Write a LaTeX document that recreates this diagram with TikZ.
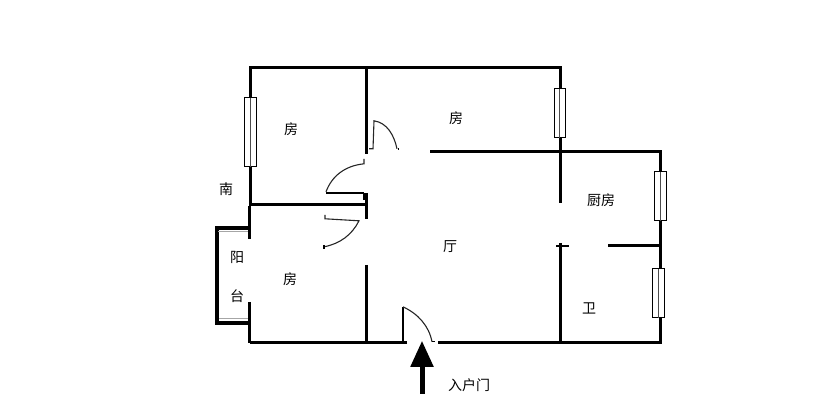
\documentclass[tikz,border=0pt]{standalone}
\usepackage{fontspec}
\usepackage{xcolor}
\usepackage{tikz}
\usetikzlibrary{calc}
\usetikzlibrary{arrows.meta}
\newfontfamily\cjk{Noto Sans CJK SC}[Scale=1]
\tikzset{
  wall/.style={line width=3pt,line cap=square},
  thinwall/.style={line width=2.4pt},
  doorleaf/.style={line width=1.1pt,black!85},
  label/.style={font=\cjk\fontsize{14}{14}\selectfont,inner sep=0pt},
  glass/.style={draw=black,fill=white,line width=.7pt}
}
\begin{document}
\begin{tikzpicture}[x=1pt,y=-1pt,>=stealth]
\useasboundingbox (0,-0.8) rectangle (814,418.2);
% outer walls
\draw[wall] (250,205)--(250,67)--(560,67)--(560,202);
\draw[wall] (430,151)--(660,151)--(660,342)--(438,342);
\draw[wall] (407,342)--(250,342);
\draw[wall] (249,301)--(249,342);
\draw[wall] (249,205)--(249,238);
% inner walls
\draw[wall] (366,67)--(366,153);
\draw[wall] (366,192)--(366,218);
\draw[wall] (366,264)--(366,342);
\draw[wall] (250,204)--(366,204);
\draw[wall] (560,242)--(560,342);
\draw[wall] (608,245)--(660,245);
\draw[thinwall] (556,245)--(569,245);
% balcony
\draw[line width=3.6pt,miter limit=4] (250,227)--(217,227)--(217,322)--(250,322);
\draw[gray!70,line width=.8pt] (218,231)--(248,231);
\draw[gray!70,line width=.8pt] (219,318)--(248,318);
% windows
\foreach \x/\y/\w/\h in {244/97/12/69,554/88/11/49,654/171/12/49,652/268/12/49} {
\draw[glass] (\x,\y) rectangle (\x+\w,\y+\h);
\draw[black!70,line width=.7pt] (\x+\w/2,\y)--(\x+\w/2,\y+\h);
}
% doors
\draw[doorleaf] (369,148)--(373,148)--(374,120) .. controls (387,122) and (394,134) .. (397,148);
\draw[thinwall] (398,148)--(399,148);
\draw[doorleaf] (364,158)--(364,163) .. controls (345,165) and (332,175) .. (326,191);
\draw[line width=1.8pt] (326,192)--(364,192);
\draw[line width=1.2pt] (364,192)--(364,199);
\draw[doorleaf] (325,214)--(325,218)--(359,220) .. controls (352,234) and (340,243) .. (324,246);
\draw[line width=1.5pt] (324,244)--(324,248);
\draw[line width=1.8pt] (403,342)--(403,306);
\draw[doorleaf] (403,306) .. controls (418,313) and (429,325) .. (432,341);
\draw[line width=1.2pt] (432,341)--(435,341);
% entrance arrow
\coordinate (entry) at (422,393);
\coordinate (doorway) at (422,340);
\draw[line width=5pt,-{Triangle[width=22pt,length=26pt]}] (entry)--(doorway);
% labels
\node[label] (roomA) at (291,128) {\cjk 房};
\node[label] (roomB) at (456,117) {\cjk 房};
\node[label] (roomC) at (290,278) {\cjk 房};
\node[label] (south) at (226,188) {\cjk 南};
\node[label] (kitchen) at (601,199) {\cjk 厨房};
\node[label] (hall) at (450,246) {\cjk 厅};
\node[label] (balconyA) at (237,257) {\cjk 阳};
\node[label] (balconyB) at (237,295) {\cjk 台};
\node[label] (bath) at (589,308) {\cjk 卫};
\node[label] (door) at (469,384) {\cjk 入户门};
\end{tikzpicture}
\end{document}
